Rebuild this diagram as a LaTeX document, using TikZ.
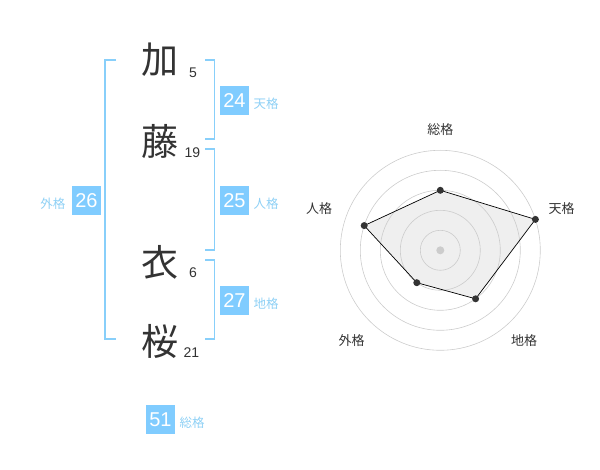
\documentclass[tikz,border=0pt]{standalone}
\usepackage{fontspec}
\setmainfont{Liberation Sans}
\newfontfamily\cjk{Noto Sans CJK JP}
\definecolor{boxblue}{HTML}{80CCFF}
\definecolor{brblue}{HTML}{88CFFA}
\definecolor{lblblue}{HTML}{8ED0F5}
\definecolor{txtdark}{HTML}{333333}
\definecolor{ringgray}{HTML}{CCCCCC}
\definecolor{polyfill}{HTML}{EFEFEF}
\begin{document}
\begin{tikzpicture}[x=1pt,y=-1pt,
  bigchar/.style={font=\cjk\fontsize{37}{37}\selectfont, text=txtdark, inner sep=0pt},
  strokes/.style={font=\fontsize{14}{14}\selectfont, text=txtdark, inner sep=0pt},
  numbox/.style={fill=boxblue, text=white, minimum width=29pt, minimum height=29pt, inner sep=0pt, font=\fontsize{20}{20}\selectfont},
  kaku/.style={text=lblblue, font=\cjk\fontsize{12.5}{12.5}\selectfont, inner sep=0pt},
  bracket/.style={draw=brblue, line width=1.6pt},
  ring/.style={draw=ringgray, line width=0.6pt},
  radlbl/.style={text=txtdark, font=\cjk\fontsize{13}{13}\selectfont, inner sep=0pt},
  vdot/.style={circle, fill=txtdark, inner sep=0pt, minimum size=7pt}
]
\useasboundingbox (0,0) rectangle (600,470);
% names
\node[bigchar] (c1) at (160,60) {加};
\node[bigchar] (c2) at (160,141.7) {藤};
\node[bigchar] (c3) at (160,262.3) {衣};
\node[bigchar] (c4) at (160,341.7) {桜};
\node[strokes] (s1) at (193,72.5) {5};
\node[strokes] (s2) at (192.5,152.7) {19};
\node[strokes] (s3) at (193,272.7) {6};
\node[strokes] (s4) at (191.5,352.7) {21};
% brackets
\draw[bracket] (116,60) -- (105,60) -- (105,339.3) -- (116,339.3);
\draw[bracket] (205.3,60) -- (214.3,60) -- (214.3,139.3) -- (205.3,139.3);
\draw[bracket] (205.3,149.3) -- (214.3,149.3) -- (214.3,250) -- (205.3,250);
\draw[bracket] (205.3,260) -- (214.3,260) -- (214.3,339.3) -- (205.3,339.3);
% boxes
\node[numbox] (b24) at (234.5,100.5) {24};
\node[kaku, anchor=west] (k24) at (253.5,103.5) {天格};
\node[numbox] (b25) at (234.5,200.5) {25};
\node[kaku, anchor=west] (k25) at (253.5,203.5) {人格};
\node[numbox] (b26) at (86.5,200.5) {26};
\node[kaku, anchor=east] (k26) at (65.5,203.5) {外格};
\node[numbox] (b27) at (234.5,300.5) {27};
\node[kaku, anchor=west] (k27) at (253.5,303.5) {地格};
\node[numbox] (b51) at (160.5,419.5) {51};
\node[kaku, anchor=west] (k51) at (179.5,422.5) {総格};
% radar
\coordinate (o) at (440.3,250.3);
\path (o) ++(0,-60) coordinate (p1)
      (o) ++(95.1,-30.9) coordinate (p2)
      (o) ++(35.3,48.5) coordinate (p3)
      (o) ++(-23.5,32.4) coordinate (p4)
      (o) ++(-76.1,-24.7) coordinate (p5);
\fill[polyfill] (p1) -- (p2) -- (p3) -- (p4) -- (p5) -- cycle;
\foreach \r in {20,40,60,80,100} \draw[ring] (o) circle[radius=\r];
\fill[ringgray] (o) circle[radius=4];
\draw[black, line width=0.7pt] (p1) -- (p2) -- (p3) -- (p4) -- (p5) -- cycle;
\foreach \p in {p1,p2,p3,p4,p5} \node[vdot] at (\p) {};
\node[radlbl] (r1) at (440.3,130) {総格};
\node[radlbl] (r2) at (561.7,208.7) {天格};
\node[radlbl] (r3) at (524,341) {地格};
\node[radlbl] (r4) at (351.7,341) {外格};
\node[radlbl] (r5) at (319,208.7) {人格};
\end{tikzpicture}
\end{document}
